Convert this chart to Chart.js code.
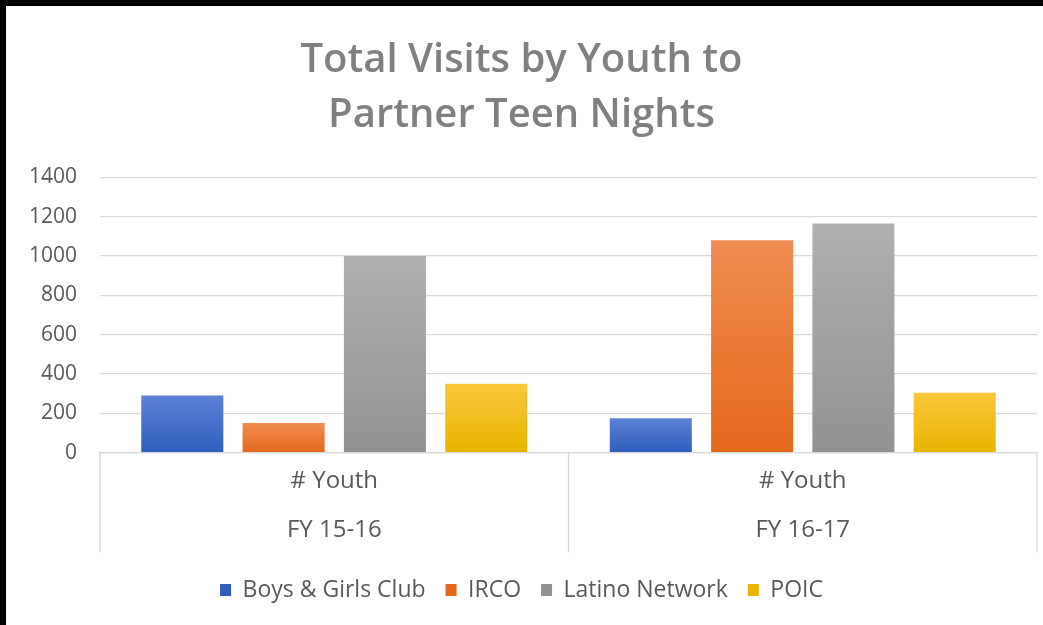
<!DOCTYPE html>
<html>
<head>
<meta charset="utf-8">
<title>Total Visits by Youth to Partner Teen Nights</title>
<script src="https://cdn.jsdelivr.net/npm/chart.js@4"></script>
<style>
    html, body { margin: 0; padding: 0; background: #fff; overflow: hidden; }
    .frame {
        width: 1037px;
        height: 619px;
        border-left: 6px solid #000;
        border-top: 6px solid #000;
    }
    canvas { display: block; }
</style>
</head>
<body>
<div class="frame">
    <canvas id="visitsChart" width="1037" height="619"></canvas>
</div>
<script>
// Total youth visits per partner, per fiscal year
const years = ['FY 15-16', 'FY 16-17'];
const rowLabel = '# Youth';
const partners = ['Boys & Girls Club', 'IRCO', 'Latino Network', 'POIC'];
const boysGirlsClub = [290, 175];
const irco = [150, 1080];
const latinoNetwork = [1000, 1165];
const poic = [350, 305];
const yTicks = [0, 200, 400, 600, 800, 1000, 1200, 1400];

// light top / dark bottom for each bar, like the office gradient fill
const palette = [
    { base: '#4472c4', top: '#5b82d5', bottom: '#2f5ebd' },
    { base: '#ed7d31', top: '#f08c50', bottom: '#e4691b' },
    { base: '#a5a5a5', top: '#b0b0b0', bottom: '#929292' },
    { base: '#ffc000', top: '#fbc63c', bottom: '#e8b400' }
];

const gridColor = '#d9d9d9';
const boxDepth = 100; // how far the category separators run below the axis

function barGradient(colors) {
    return (context) => {
        const chart = context.chart;
        const yScale = chart.scales.y;
        if (!chart.chartArea || !yScale || context.raw == null) return colors.base;
        const top = yScale.getPixelForValue(context.raw);
        const bottom = yScale.getPixelForValue(0);
        if (!isFinite(top) || !isFinite(bottom) || top === bottom) return colors.base;
        const g = chart.ctx.createLinearGradient(0, top, 0, bottom);
        g.addColorStop(0, colors.top);
        g.addColorStop(1, colors.bottom);
        return g;
    };
}

// vertical separators that box in each category under the axis
const categoryBox = {
    id: 'categoryBox',
    afterDraw(chart) {
        const x = chart.scales.x;
        const area = chart.chartArea;
        const ctx = chart.ctx;
        const edges = [x.left];
        for (let i = 0; i < x.ticks.length - 1; i++) {
            edges.push((x.getPixelForTick(i) + x.getPixelForTick(i + 1)) / 2);
        }
        edges.push(x.right);
        ctx.save();
        ctx.strokeStyle = gridColor;
        ctx.lineWidth = 1.3;
        edges.forEach(px => {
            ctx.beginPath();
            ctx.moveTo(px, area.bottom);
            ctx.lineTo(px, area.bottom + boxDepth);
            ctx.stroke();
        });
        ctx.restore();
    }
};

const seriesValues = [boysGirlsClub, irco, latinoNetwork, poic];

const datasets = partners.map((name, i) => ({
    label: name,
    data: seriesValues[i],
    backgroundColor: barGradient(palette[i]),
    borderWidth: 0,
    categoryPercentage: 0.865,
    barPercentage: 0.81
}));

const font = "'Open Sans', 'DejaVu Sans', sans-serif";

new Chart(document.getElementById('visitsChart'), {
    type: 'bar',
    data: {
        labels: years.map(y => [rowLabel, y]),
        datasets: datasets
    },
    options: {
        responsive: false,
        animation: false,
        layout: {
            padding: { left: 0, right: 6, top: 0, bottom: 13.5 }
        },
        plugins: {
            title: {
                display: true,
                text: ['Total Visits by Youth to', 'Partner Teen Nights'],
                color: '#808080',
                font: { family: font, size: 40, weight: '600', lineHeight: 1.38 },
                padding: { top: 27, bottom: 34 }
            },
            legend: {
                position: 'bottom',
                labels: {
                    color: '#595959',
                    font: { family: font, size: 23 },
                    boxWidth: 11,
                    boxHeight: 12,
                    padding: 20,
                    useBorderRadius: false
                }
            },
            tooltip: { enabled: false }
        },
        scales: {
            y: {
                min: 0,
                max: 1400,
                afterBuildTicks: (axis) => {
                    axis.ticks = yTicks.map(v => ({ value: v }));
                },
                border: { display: false },
                grid: {
                    color: gridColor,
                    lineWidth: 1.3,
                    drawTicks: false
                },
                ticks: {
                    color: '#595959',
                    font: { family: font, size: 21 },
                    padding: 23,
                    callback: (v) => String(v)
                }
            },
            x: {
                border: { color: gridColor, width: 1.3 },
                grid: { display: false, drawTicks: false },
                ticks: {
                    color: '#595959',
                    font: { family: font, size: 24, lineHeight: 2.04 },
                    padding: 4,
                    maxRotation: 0,
                    autoSkip: false
                }
            }
        }
    },
    plugins: [categoryBox]
});
</script>
</body>
</html>
